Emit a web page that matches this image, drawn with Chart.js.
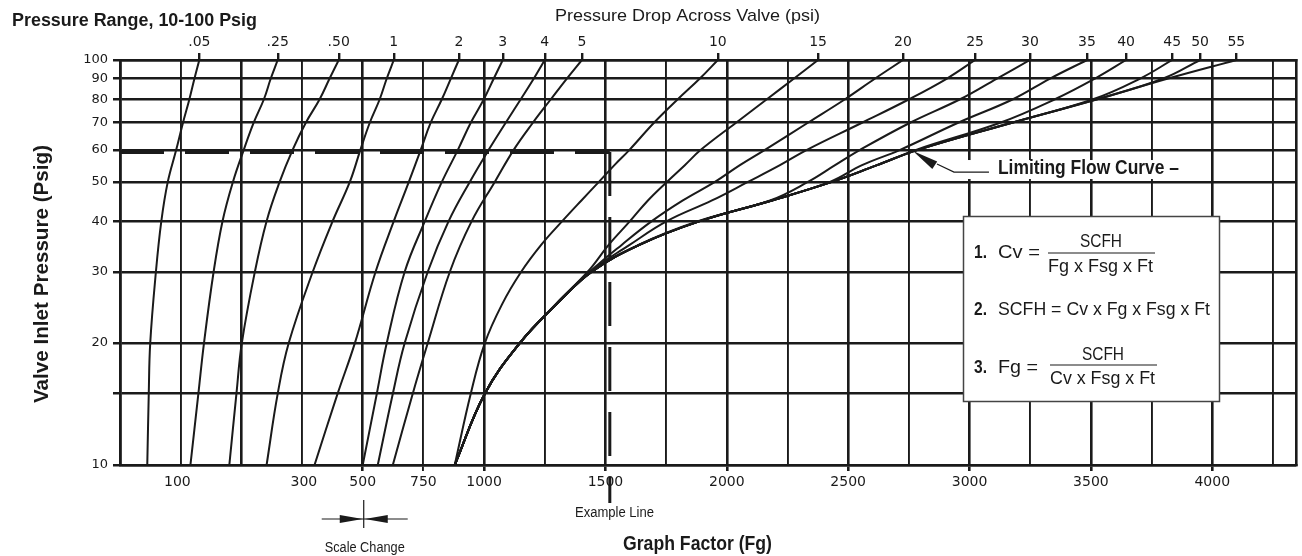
<!DOCTYPE html>
<html>
<head>
<meta charset="utf-8">
<script src="https://cdn.jsdelivr.net/npm/chart.js@4.4.1/dist/chart.umd.min.js"></script>
<style>
  html, body { margin: 0; padding: 0; background: #fff; }
  #chart { display: block; }
</style>
</head>
<body>
<canvas id="chart" width="1302" height="556"></canvas>
<script>
// inlet pressures (psig) where the curves were read
var P_LOW = [10, 15, 20, 30, 40, 50, 60, 70, 80, 90, 100];
var P_HIGH = [10, 15, 20, 25, 30, 35, 40, 45, 50, 55, 60, 70, 80, 90, 100];

// graph factor Fg, one array per pressure drop (psi)
var fg_005 = [77, 78, 79, 83, 87, 92, 99, 105, 111, 116, 121];
var fg_025 = [112, 120, 126, 137, 148, 162, 178, 194, 212, 225, 239];
var fg_050 = [157, 167, 175, 196, 217, 243, 272, 305, 344, 375, 406];
var fg_1 = [217, 239, 263, 324, 385, 447, 490, 529, 570, 599, 628];
var fg_2 = [329, 402, 467, 553, 628, 690, 739, 780, 826, 863, 896];
var fg_3 = [500, 558, 599, 673, 756, 826, 892, 945, 999, 1040, 1077];
var fg_4 = [562, 624, 673, 768, 854, 941, 1019, 1089, 1151, 1205, 1250];
var fg_5 = [624, 706, 768, 859, 949, 1044, 1122, 1201, 1275, 1341, 1403];

var fg_10 = [879, 945, 1003, 1075, 1153, 1236, 1322, 1401, 1473, 1537, 1599, 1700, 1798, 1889, 1963];
var fg_15 = [879, 1003, 1147, 1296, 1427, 1514, 1601, 1675, 1753, 1827, 1893, 2038, 2165, 2277, 2376];
var fg_20 = [879, 1003, 1147, 1300, 1436, 1568, 1691, 1819, 1951, 2054, 2157, 2334, 2487, 2611, 2726];
var fg_25 = [879, 1003, 1147, 1300, 1436, 1601, 1753, 1939, 2087, 2219, 2330, 2557, 2751, 2907, 3023];
var fg_30 = [879, 1003, 1147, 1300, 1440, 1638, 1881, 2178, 2334, 2446, 2549, 2755, 2961, 3113, 3249];
var fg_35 = [879, 1003, 1147, 1300, 1444, 1642, 1889, 2186, 2425, 2557, 2714, 2953, 3179, 3332, 3484];
var fg_40 = [879, 1003, 1147, 1300, 1444, 1642, 1889, 2186, 2433, 2619, 2780, 3126, 3352, 3517, 3645];
var fg_45 = [879, 1003, 1147, 1300, 1444, 1642, 1889, 2186, 2433, 2619, 2788, 3175, 3509, 3703, 3835];
var fg_50 = [879, 1003, 1147, 1300, 1444, 1642, 1889, 2186, 2433, 2619, 2788, 3175, 3526, 3798, 3950];
var fg_55 = [879, 1003, 1147, 1300, 1444, 1642, 1889, 2186, 2433, 2619, 2788, 3175, 3526, 3818, 4099];

var DROP_LABELS = ['.05', '.25', '.50', '1', '2', '3', '4', '5', '10', '15', '20', '25', '30', '35', '40', '45', '50', '55'];

var X_TICK_VALUES = [100, 300, 500, 750, 1000, 1500, 2000, 2500, 3000, 3500, 4000];
var Y_TICK_VALUES = [10, 15, 20, 30, 40, 50, 60, 70, 80, 90, 100];
var Y_TICK_LABELS = ['10', '', '20', '30', '40', '50', '60', '70', '80', '90', '100'];

// example line
var EXAMPLE_FG = 1518;
var EXAMPLE_P = 59.3;
var EXAMPLE_P_END = 8.06;

// limiting flow curve pointer
var LIMIT_FG = 2767;
var LIMIT_P = 59.6;

// x axis: log scale below 500, linear (250 per division) above
var SPLIT_FG = 500;
var FG_PER_GRID = 250;
var LOG_GRID = 4.37;
var X_MIN = -4, X_MAX = 15.38;

function toAxis(fg) {
  if (fg >= SPLIT_FG) return (fg - SPLIT_FG) / FG_PER_GRID;
  return -LOG_GRID * Math.log10(SPLIT_FG / fg);
}
function near(a, b) { return Math.abs(a - b) < 1e-6; }
function isGrid(v) { return Math.abs(v - Math.round(v)) < 1e-9; }

var INK = '#1a1a1a';
var FONT_SANS = "'Liberation Sans', Arial, sans-serif";
var FONT_NUM = "'DejaVu Sans', sans-serif";

var lowCurves = [fg_005, fg_025, fg_050, fg_1, fg_2, fg_3, fg_4, fg_5];
var highCurves = [fg_10, fg_15, fg_20, fg_25, fg_30, fg_35, fg_40, fg_45, fg_50, fg_55];

function curveSet(label, fg, p) {
  return {
    label: label,
    data: fg.map(function (f, i) { return { x: toAxis(f), y: p[i] }; }),
    borderColor: INK,
    borderWidth: 2,
    pointRadius: 0,
    tension: 0.4,
    fill: false
  };
}

var datasets = [];
lowCurves.forEach(function (fg, i) { datasets.push(curveSet(DROP_LABELS[i], fg, P_LOW)); });
highCurves.forEach(function (fg, i) { datasets.push(curveSet(DROP_LABELS[i + 8], fg, P_HIGH)); });

datasets.push({
  label: 'example',
  data: [{ x: X_MIN, y: EXAMPLE_P }, { x: toAxis(EXAMPLE_FG), y: EXAMPLE_P }],
  borderColor: INK, borderWidth: 4, borderDash: [44, 21],
  pointRadius: 0, tension: 0
});
datasets.push({
  label: 'example drop',
  data: [{ x: toAxis(EXAMPLE_FG), y: EXAMPLE_P }, { x: toAxis(EXAMPLE_FG), y: EXAMPLE_P_END }],
  borderColor: INK, borderWidth: 3, borderDash: [44, 21],
  pointRadius: 0, tension: 0, clip: false
});

var topTicks = lowCurves.concat(highCurves).map(function (fg) { return toAxis(fg[fg.length - 1]); });

function fitText(ctx, text, x, y, width, font, align) {
  ctx.save();
  ctx.font = font;
  var sx = width / ctx.measureText(text).width;
  ctx.translate(x, y);
  ctx.scale(sx, 1);
  ctx.textAlign = align || 'left';
  ctx.textBaseline = 'alphabetic';
  ctx.fillText(text, 0, 0);
  ctx.restore();
}

function line(ctx, pts, w) {
  ctx.beginPath();
  ctx.moveTo(pts[0][0], pts[0][1]);
  for (var i = 1; i < pts.length; i++) ctx.lineTo(pts[i][0], pts[i][1]);
  ctx.lineWidth = w;
  ctx.stroke();
}

function tri(ctx, a, b, c) {
  ctx.beginPath();
  ctx.moveTo(a[0], a[1]); ctx.lineTo(b[0], b[1]); ctx.lineTo(c[0], c[1]);
  ctx.closePath();
  ctx.fill();
}

var decorations = {
  id: 'decorations',
  afterDraw: function (chart) {
    var ctx = chart.ctx;
    var xs = chart.scales.x, ys = chart.scales.y;
    ctx.save();
    ctx.fillStyle = INK;
    ctx.strokeStyle = INK;

    fitText(ctx, 'Pressure Range, 10-100 Psig', 12, 26, 245, 'bold 18px ' + FONT_SANS);
    fitText(ctx, 'Pressure Drop Across Valve (psi)', 555, 21, 265, '17px ' + FONT_SANS);
    fitText(ctx, 'Graph Factor (Fg)', 623, 550, 149, 'bold 20px ' + FONT_SANS);

    ctx.save();
    ctx.translate(48, 274);
    ctx.rotate(-Math.PI / 2);
    fitText(ctx, 'Valve Inlet Pressure (Psig)', 0, 0, 258, 'bold 20px ' + FONT_SANS, 'center');
    ctx.restore();

    // example line label
    fitText(ctx, 'Example Line', 575, 517, 79, '14px ' + FONT_SANS);

    // scale change marker
    var xm = xs.getPixelForValue(toAxis(SPLIT_FG));
    ctx.lineCap = 'butt';
    line(ctx, [[xm - 41, 519], [xm + 45, 519]], 1.2);
    line(ctx, [[xm + 1, 500], [xm + 1, 528]], 1.2);
    tri(ctx, [xm - 23, 515], [xm - 23, 523], [xm, 519]);
    tri(ctx, [xm + 25, 515], [xm + 25, 523], [xm + 2, 519]);
    fitText(ctx, 'Scale Change', xm + 2, 552, 80, '14px ' + FONT_SANS, 'center');

    // limiting flow curve label
    var tx = xs.getPixelForValue(toAxis(LIMIT_FG));
    var ty = ys.getPixelForValue(LIMIT_P);
    ctx.fillStyle = '#fff';
    ctx.fillRect(tx + 44, ty + 9, 228, 19);
    ctx.fillStyle = INK;
    line(ctx, [[tx + 76, ty + 21], [tx + 41, ty + 21], [tx + 24, ty + 13]], 1.2);
    var dx = 23, dy = 15, len = Math.sqrt(dx * dx + dy * dy);
    var ux = dx / len, uy = dy / len;
    tri(ctx, [tx, ty], [tx + ux * 26 - uy * 4.5, ty + uy * 26 + ux * 4.5], [tx + ux * 26 + uy * 4.5, ty + uy * 26 - ux * 4.5]);
    fitText(ctx, 'Limiting Flow Curve \u2013', tx + 85, ty + 23, 181, 'bold 20px ' + FONT_SANS);

    // formula box
    ctx.fillStyle = '#fff';
    ctx.fillRect(963, 216, 256, 185);
    ctx.strokeStyle = '#444';
    ctx.lineWidth = 1.5;
    ctx.strokeRect(963.5, 216.5, 256, 185);
    ctx.fillStyle = INK;
    ctx.strokeStyle = INK;

    var bold = 'bold 19px ' + FONT_SANS, reg = '19px ' + FONT_SANS;
    fitText(ctx, '1.', 974, 258, 13, bold);
    fitText(ctx, 'Cv =', 998, 258, 42, reg);
    fitText(ctx, 'SCFH', 1101, 247, 42, reg, 'center');
    line(ctx, [[1048, 253], [1155, 253]], 1.2);
    fitText(ctx, 'Fg x Fsg x Ft', 1048, 272, 105, reg);

    fitText(ctx, '2.', 974, 315, 13, bold);
    fitText(ctx, 'SCFH = Cv x Fg x Fsg x Ft', 998, 315, 212, reg);

    fitText(ctx, '3.', 974, 373, 13, bold);
    fitText(ctx, 'Fg =', 998, 373, 40, reg);
    fitText(ctx, 'SCFH', 1103, 360, 42, reg, 'center');
    line(ctx, [[1050, 365], [1157, 365]], 1.2);
    fitText(ctx, 'Cv x Fsg x Ft', 1050, 384, 105, reg);

    ctx.restore();
  }
};

new Chart(document.getElementById('chart'), {
  type: 'line',
  data: { datasets: datasets },
  plugins: [decorations],
  options: {
    responsive: false,
    animation: false,
    devicePixelRatio: 1,
    layout: { padding: { left: 0, right: 6, top: 0, bottom: 0 } },
    plugins: { legend: { display: false }, tooltip: { enabled: false } },
    scales: {
      x: {
        type: 'linear',
        position: 'bottom',
        min: X_MIN,
        max: X_MAX,
        afterFit: function (s) { s.height = 91; },
        afterBuildTicks: function (s) {
          var t = [];
          for (var g = -4; g <= 15; g++) t.push(g);
          t.push(toAxis(100), toAxis(300));
          t.sort(function (a, b) { return a - b; });
          s.ticks = t.map(function (v) { return { value: v }; });
        },
        ticks: {
          autoSkip: false,
          maxRotation: 0,
          padding: 3,
          color: INK,
          font: { family: FONT_NUM, size: 14 },
          callback: function (v) {
            for (var i = 0; i < X_TICK_VALUES.length; i++) {
              if (near(toAxis(X_TICK_VALUES[i]), v)) return String(X_TICK_VALUES[i]);
            }
            return '';
          }
        },
        grid: {
          color: function (c) { return isGrid(c.tick.value) ? INK : 'rgba(0,0,0,0)'; },
          lineWidth: function (c) {
            var v = c.tick.value;
            if (!isGrid(v)) return 0;
            return Math.round(v) % 2 === 0 ? 2.6 : 1.9;
          },
          tickColor: function (c) {
            var v = c.tick.value;
            var labelled = X_TICK_VALUES.some(function (f) { return near(toAxis(f), v); });
            return labelled && isGrid(v) ? INK : 'rgba(0,0,0,0)';
          },
          tickLength: 6
        },
        border: { display: true, color: INK, width: 2.6 }
      },
      x2: {
        type: 'linear',
        position: 'top',
        min: X_MIN,
        max: X_MAX,
        afterFit: function (s) { s.height = 60; },
        afterBuildTicks: function (s) {
          s.ticks = topTicks.map(function (v) { return { value: v }; });
        },
        ticks: {
          autoSkip: false,
          maxRotation: 0,
          padding: 2,
          color: INK,
          font: { family: FONT_NUM, size: 14 },
          callback: function (v, i) { return DROP_LABELS[i]; }
        },
        grid: { drawOnChartArea: false, color: INK, lineWidth: 2.4, tickLength: 7 },
        border: { display: true, color: INK, width: 2.6 }
      },
      y: {
        type: 'logarithmic',
        position: 'left',
        min: 10,
        max: 100,
        afterFit: function (s) { s.width = 120; },
        afterBuildTicks: function (s) {
          s.ticks = Y_TICK_VALUES.map(function (v) { return { value: v }; });
        },
        ticks: {
          autoSkip: false,
          padding: 5,
          color: INK,
          font: { family: FONT_NUM, size: 13 },
          callback: function (v, i) { return Y_TICK_LABELS[i]; }
        },
        grid: { color: INK, lineWidth: 2.5, tickLength: 7 },
        border: { display: true, color: INK, width: 2.6 }
      },
      yRight: {
        type: 'linear',
        position: 'right',
        afterFit: function (s) { s.width = 0; },
        ticks: { display: false },
        grid: { drawOnChartArea: false, drawTicks: false },
        border: { display: true, color: INK, width: 2.6 }
      }
    }
  }
});
</script>
</body>
</html>
